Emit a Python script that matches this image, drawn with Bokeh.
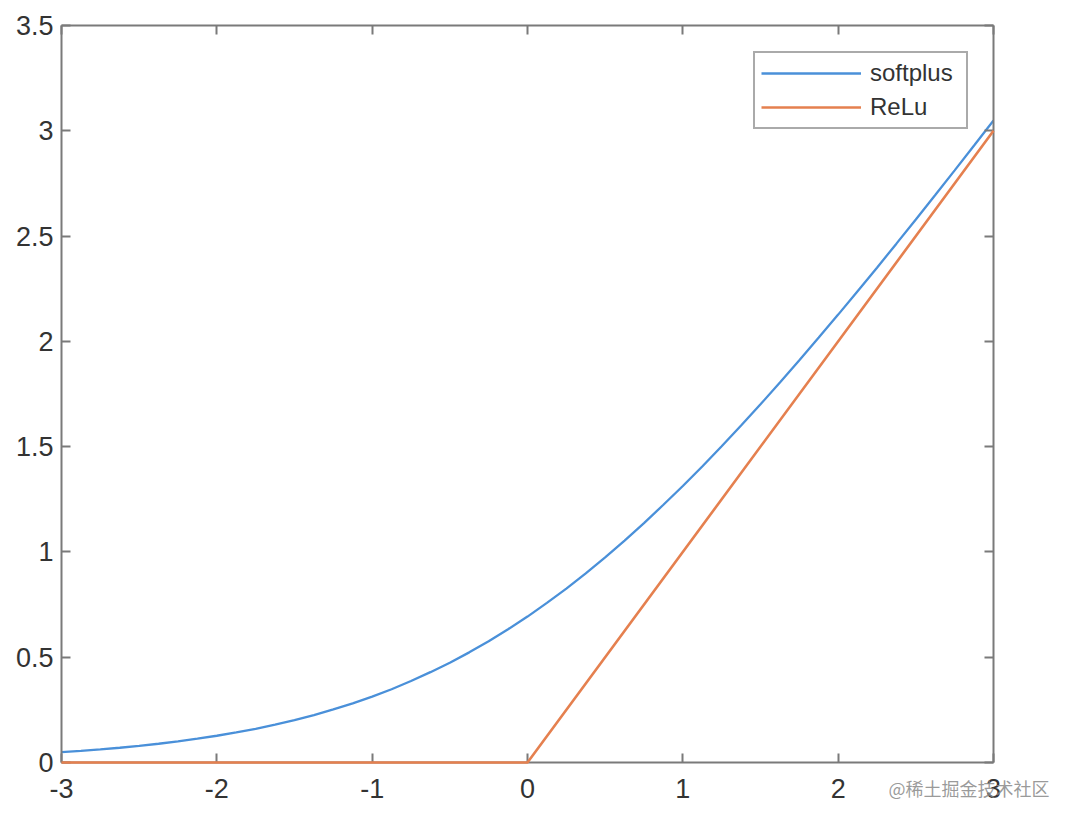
from bokeh.plotting import figure
from bokeh.models import (Range1d, FixedTicker, LinearAxis, Legend, LegendItem,
                          CustomJSTickFormatter)
from bokeh.core.properties import value
from bokeh.embed import file_html
from bokeh.resources import INLINE

# ---- data ----
x_soft = [-3.0, -2.875, -2.75, -2.625, -2.5, -2.375, -2.25, -2.125, -2.0, -1.875, -1.75, -1.625,
          -1.5, -1.375, -1.25, -1.125, -1.0, -0.875, -0.75, -0.625, -0.5, -0.375, -0.25, -0.125,
          0.0, 0.125, 0.25, 0.375, 0.5, 0.625, 0.75, 0.875, 1.0, 1.125, 1.25, 1.375,
          1.5, 1.625, 1.75, 1.875, 2.0, 2.125, 2.25, 2.375, 2.5, 2.625, 2.75, 2.875, 3.0]
y_soft = [0.049, 0.055, 0.062, 0.070, 0.079, 0.089, 0.100, 0.113, 0.127, 0.143, 0.160, 0.180,
          0.201, 0.225, 0.252, 0.281, 0.313, 0.348, 0.387, 0.429, 0.474, 0.523, 0.576, 0.633,
          0.693, 0.758, 0.826, 0.898, 0.974, 1.054, 1.137, 1.224, 1.313, 1.406, 1.502, 1.600,
          1.701, 1.805, 1.910, 2.018, 2.127, 2.238, 2.350, 2.464, 2.579, 2.695, 2.812, 2.930, 3.049]
x_relu = [-3.0, 0.0, 3.0]
y_relu = [0.0, 0.0, 3.0]

series_names = ["softplus", "ReLu"]
x_ticks = [-3, -2, -1, 0, 1, 2, 3]
x_tick_labels = ["-3", "-2", "-1", "0", "1", "2", "3"]
y_ticks = [0, 0.5, 1, 1.5, 2, 2.5, 3, 3.5]
y_tick_labels = ["0", "0.5", "1", "1.5", "2", "2.5", "3", "3.5"]
watermark = "@稀土掘金技术社区"

FONT = "Liberation Sans"
AX_COLOR = "#7a7a7a"
TXT_COLOR = "#333333"
BLUE = "#4a90d9"
ORANGE = "#e5804f"

p = figure(width=1062, height=811, output_backend="svg", toolbar_location=None,
           x_range=Range1d(-3, 3), y_range=Range1d(0, 3.5),
           x_axis_type=None, y_axis_type=None,
           min_border_left=61, min_border_right=69, min_border_top=25, min_border_bottom=49,
           background_fill_color="white", border_fill_color="white")
p.outline_line_color = None
p.xgrid.visible = False
p.ygrid.visible = False


def style_axis(ax, ticks, labels, show_labels, standoff):
    ax.ticker = FixedTicker(ticks=ticks)
    if show_labels:
        ax.major_label_overrides = {t: l for t, l in zip(ticks, labels)}
    else:
        ax.formatter = CustomJSTickFormatter(code="return '';")
    ax.major_label_text_font = FONT
    ax.major_label_text_font_size = "27px"
    ax.major_label_text_color = TXT_COLOR
    ax.major_label_standoff = standoff
    ax.axis_line_color = AX_COLOR
    ax.axis_line_width = 2
    ax.major_tick_line_color = AX_COLOR
    ax.major_tick_line_width = 2
    ax.major_tick_in = 9
    ax.major_tick_out = 0
    ax.minor_tick_line_color = None


xb = LinearAxis()
style_axis(xb, x_ticks, x_tick_labels, True, 16)
p.add_layout(xb, "below")
yl = LinearAxis()
style_axis(yl, y_ticks, y_tick_labels, True, 8)
p.add_layout(yl, "left")
xt = LinearAxis()
style_axis(xt, x_ticks, x_tick_labels, False, 0)
p.add_layout(xt, "above")
yr = LinearAxis()
style_axis(yr, y_ticks, y_tick_labels, False, 0)
p.add_layout(yr, "right")

r_soft = p.line(x_soft, y_soft, line_color=BLUE, line_width=2.3)
r_relu = p.line(x_relu, y_relu, line_color=ORANGE, line_width=2.6)
r_relu.level = "annotation"

wm = p.text(x=[2.324], y=[-0.119], text=[watermark], text_font=value("Noto Sans CJK SC"),
            text_font_size="18px", text_color="#888888", text_alpha=0.85,
            text_baseline="middle", text_align="left")
wm.level = "annotation"

legend = Legend(items=[LegendItem(label=series_names[0], renderers=[r_soft]),
                       LegendItem(label=series_names[1], renderers=[r_relu])],
                location=(692, 633))
legend.label_text_font = FONT
legend.label_text_font_size = "24px"
legend.label_text_color = TXT_COLOR
legend.glyph_width = 100
legend.glyph_height = 24
legend.label_height = 24
legend.label_width = 90
legend.label_standoff = 9
legend.spacing = 6
legend.padding = 6
legend.margin = 0
legend.border_line_color = "#555555"
legend.border_line_width = 2
legend.background_fill_color = "white"
legend.background_fill_alpha = 1
p.add_layout(legend, "center")

open("out.html", "w").write(file_html(p, INLINE))
